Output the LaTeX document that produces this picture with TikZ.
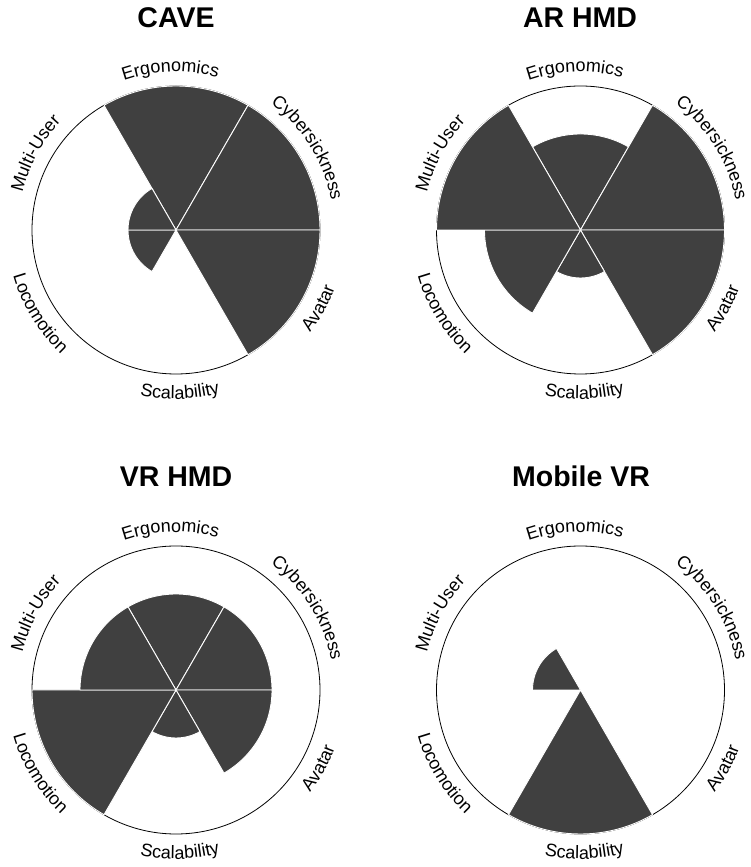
\documentclass[tikz,border=0pt]{standalone}
\usepackage{fontspec}
\setmainfont{Liberation Sans}
\usetikzlibrary{decorations.text}
\definecolor{barfill}{HTML}{404040}
\newcommand{\lblfont}{\fontsize{18}{20}\selectfont}
\tikzset{
  sector/.style={fill=barfill, draw=white, line width=0.9pt, line join=round},
  rim/.style={draw=black, line width=0.8pt},
  charttitle/.style={font=\fontsize{28.5}{32}\selectfont\bfseries, anchor=base, inner sep=0pt},
}
% sector: center, start angle, end angle, radius (pt)
\newcommand{\sect}[4]{%
  \path[sector] (#1) -- ([shift={(#2:#4pt)}]#1) arc[start angle=#2, end angle=#3, radius=#4pt] -- cycle;}
% label above (clockwise, tops outward)
\newcommand{\uplabel}[3]{%
  \path[decorate, decoration={text along path, text align=center, text={|\lblfont|#3}}]
    ([shift={(#2+40:158pt)}]#1) arc[start angle=#2+40, end angle=#2-40, radius=158pt];}
% label below (counterclockwise, tops inward)
\newcommand{\lowlabel}[3]{%
  \path[decorate, decoration={text along path, text align=center, text={|\lblfont|#3}}]
    ([shift={(#2-40:169pt)}]#1) arc[start angle=#2-40, end angle=#2+40, radius=169pt];}
\newcommand{\chartlabels}[1]{%
  \uplabel{#1}{92}{Ergonomics}
  \uplabel{#1}{32}{Cybersickness}
  \uplabel{#1}{151.5}{Multi-User}
  \lowlabel{#1}{-28.7}{Avatar}
  \lowlabel{#1}{-88.6}{Scalability}
  \lowlabel{#1}{211.4}{Locomotion}}
\begin{document}
\begin{tikzpicture}[x=1pt, y=1pt]
\useasboundingbox (0,0) rectangle (750,867);
\fill[white] (0,0) rectangle (750,867);

\coordinate (c1) at (176,637);
\coordinate (c2) at (580.5,637);
\coordinate (c3) at (176,177);
\coordinate (c4) at (580.5,177);

% titles
\node[charttitle] (t1) at (176,839.7) {CAVE};
\node[charttitle] (t2) at (580,839.7) {AR HMD};
\node[charttitle] (t3) at (176,380.3) {VR HMD};
\node[charttitle] (t4) at (581,380.3) {Mobile VR};

% outer circles
\draw[rim] (c1) circle[radius=144pt];
\draw[rim] (c2) circle[radius=144pt];
\draw[rim] (c3) circle[radius=144pt];
\draw[rim] (c4) circle[radius=144pt];

% CAVE
\sect{c1}{60}{120}{144}
\sect{c1}{0}{60}{144}
\sect{c1}{-60}{0}{144}
\sect{c1}{180}{240}{48}
\sect{c1}{120}{180}{48}

% AR HMD
\sect{c2}{60}{120}{96}
\sect{c2}{0}{60}{144}
\sect{c2}{-60}{0}{144}
\sect{c2}{-120}{-60}{48}
\sect{c2}{180}{240}{96}
\sect{c2}{120}{180}{144}

% VR HMD
\sect{c3}{60}{120}{96}
\sect{c3}{0}{60}{96}
\sect{c3}{-60}{0}{96}
\sect{c3}{-120}{-60}{48}
\sect{c3}{180}{240}{144}
\sect{c3}{120}{180}{96}

% Mobile VR
\sect{c4}{120}{180}{48}
\sect{c4}{-120}{-60}{144}

% labels
\chartlabels{c1}
\chartlabels{c2}
\chartlabels{c3}
\chartlabels{c4}
\end{tikzpicture}
\end{document}
